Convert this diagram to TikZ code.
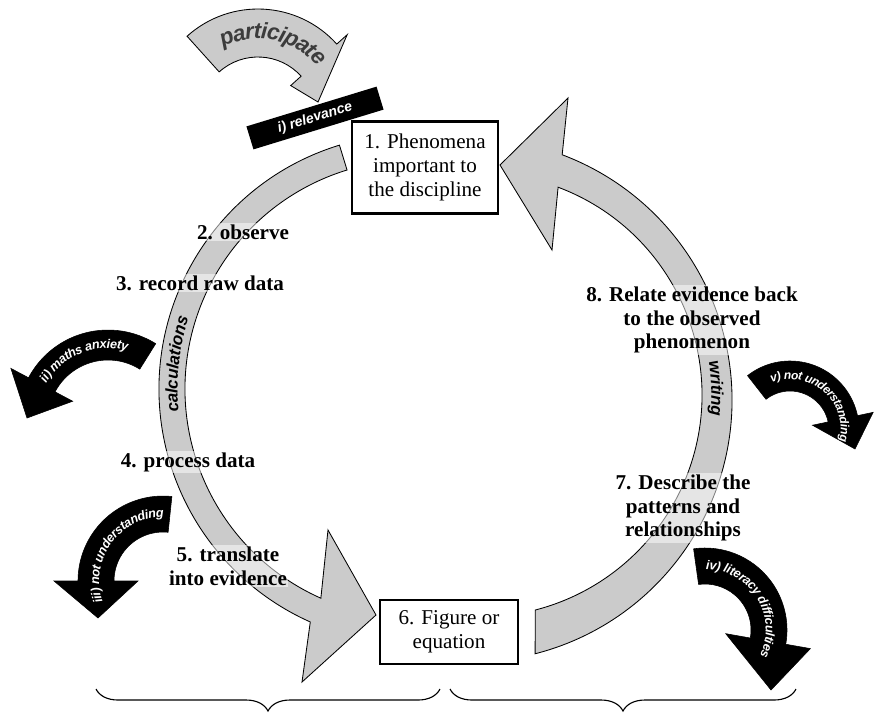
\documentclass[tikz,border=0pt]{standalone}
\usepackage{fontspec}
\setmainfont{Liberation Serif}
\setsansfont{Liberation Sans}
\usetikzlibrary{calc, decorations.text, decorations.pathreplacing}
\definecolor{BandGray}{HTML}{CBCBCB}
\definecolor{WordGray}{HTML}{3C3C3C}

\newcommand{\bandfont}{\sffamily\bfseries\itshape\fontsize{12}{12}\selectfont}
\newcommand{\partfont}{\sffamily\bfseries\itshape\fontsize{16}{16}\selectfont\color{WordGray}}
\newcommand{\tagfont}{\sffamily\bfseries\itshape\fontsize{9}{9}\selectfont\color{white}}
\newcommand{\smalltagfont}{\sffamily\bfseries\itshape\fontsize{8.5}{9}\selectfont\color{white}}

% curved block arrow: style, centre, radius, half width, tail angle, head angle, head half width, tip
\newcommand{\bentarrow}[8]{%
  \pgfmathsetmacro{\arcout}{#3+#4}%
  \pgfmathsetmacro{\arcin}{#3-#4}%
  \pgfmathsetmacro{\barbout}{#3+#7}%
  \pgfmathsetmacro{\barbin}{#3-#7}%
  \draw[#1] ($(#2)+(#5:\arcout)$) arc[start angle=#5, end angle=#6, radius=\arcout]
    -- ($(#2)+(#6:\barbout)$) -- (#8) -- ($(#2)+(#6:\barbin)$)
    -- ($(#2)+(#6:\arcin)$) arc[start angle=#6, end angle=#5, radius=\arcin] -- cycle;}

\tikzset{
  grayarrow/.style={draw=black, line width=0.6pt, fill=BandGray},
  blackarrow/.style={fill=black},
  stepbox/.style={draw, line width=2pt, fill=white, align=center,
    font=\fontsize{15}{17}\selectfont, inner sep=2pt},
  steplabel/.style={align=center, font=\fontsize{15}{17}\selectfont\bfseries,
    fill=white, fill opacity=0.5, text opacity=1, inner sep=1pt},
  banner/.style={fill=black, text=white, rotate=17,
    font=\sffamily\bfseries\itshape\fontsize{10}{10}\selectfont,
    minimum width=3.4cm, minimum height=0.6cm, inner sep=1pt},
  bigbrace/.style={decorate, decoration={brace, mirror, amplitude=0.55cm}, line width=0.8pt}
}

\begin{document}
\begin{tikzpicture}[x=0.025cm, y=-0.025cm]
\useasboundingbox (0,0) rectangle (880,713);

% centres of the arcs
\coordinate (Lc) at (414,389);
\coordinate (Ro) at (470,400);
\coordinate (Ri) at (480,395);
\coordinate (Rm) at (475,397);
\coordinate (Pc) at (258,115);
\coordinate (Mc) at (108,420);
\coordinate (Nc) at (163,581);
\coordinate (Dc) at (705,630);
\coordinate (Vc) at (790,430);

% big grey cycle
\draw[grayarrow] ($(Lc)+(-107:255)$) arc[start angle=-107, end angle=-246, radius=255]
  -- (302,682) -- (376,615) -- (328,530)
  -- ($(Lc)+(-246:229)$) arc[start angle=-246, end angle=-107, radius=229] -- cycle;
\draw[grayarrow] ($(Ro)+(75.6:262)$) arc[start angle=75.6, end angle=-69.4, radius=262]
  -- (568,98) -- (500,165) -- (552,250)
  -- ($(Ri)+(-69.4:222)$) arc[start angle=-69.4, end angle=75.6, radius=222] -- cycle;

\path[decorate, decoration={text along path, text={|\bandfont|calculations},
  text align=center, raise=-4pt}] ($(Lc)+(160:242)$) arc[start angle=160, end angle=212, radius=242];
\path[decorate, decoration={text along path, text={|\bandfont|writing},
  text align=center, raise=-4pt}] ($(Rm)+(-20:242)$) arc[start angle=-20, end angle=16, radius=242];

% participate
\bentarrow{grayarrow}{Pc}{82}{24}{-132}{-42}{38}{318,102}
\path[decorate, decoration={text along path, text={|\partfont|participate},
  text align=center, raise=-5.5pt}] ($(Pc)+(-138:84)$) arc[start angle=-138, end angle=-18, radius=84];

% barriers
\bentarrow{blackarrow}{Mc}{75}{15}{-58}{-152}{35}{27,418}
\path[decorate, decoration={text along path, text={|\tagfont|ii) maths anxiety},
  text align=center, raise=-3pt}] ($(Mc)+(-174:76)$) arc[start angle=-174, end angle=-50, radius=76];

\bentarrow{blackarrow}{Nc}{67}{18}{-84}{-180}{42}{98,618}
\path[decorate, decoration={text along path, text={|\tagfont|iii) not understanding},
  text align=center, raise=-3pt}] ($(Nc)+(-204:68)$) arc[start angle=-204, end angle=-84, radius=68];

\bentarrow{blackarrow}{Dc}{64}{18}{-98}{10}{43}{771,690}
\path[decorate, decoration={text along path, text={|\tagfont|iv) literacy difficulties},
  text align=center, raise=-3pt}] ($(Dc)+(-106:65)$) arc[start angle=-106, end angle=42, radius=65];

\bentarrow{blackarrow}{Vc}{54}{15}{-128}{-12}{31}{855,449}
\path[decorate, decoration={text along path, text={|\smalltagfont|v) not understanding},
  text align=center, raise=-3pt}] ($(Vc)+(-124:55)$) arc[start angle=-124, end angle=26, radius=55];

% boxes
\node[stepbox, minimum width=3.65cm, minimum height=2.28cm] (phen) at (425,167.5)
  {1. Phenomena\\important to\\the discipline};
\node[stepbox, minimum width=3.45cm, minimum height=1.6cm] (fig) at (449,632)
  {6. Figure or\\equation};
\node[banner] (relv) at (315,118) {i) relevance};

% steps
\node[steplabel] (obs) at (243,232) {2. observe};
\node[steplabel] (rec) at (200,283) {3. record raw data};
\node[steplabel] (proc) at (188,462) {4. process data};
\node[steplabel] (trans) at (228,566) {5. translate\\into evidence};
\node[steplabel] (desc) at (683,508) {7. Describe the\\patterns and\\relationships};
\node[steplabel] (relate) at (692,320) {8. Relate evidence back\\to the observed\\phenomenon};

% braces
\draw[bigbrace] (96,689) -- (440,689);
\draw[bigbrace] (450,689) -- (796,689);
\end{tikzpicture}
\end{document}
